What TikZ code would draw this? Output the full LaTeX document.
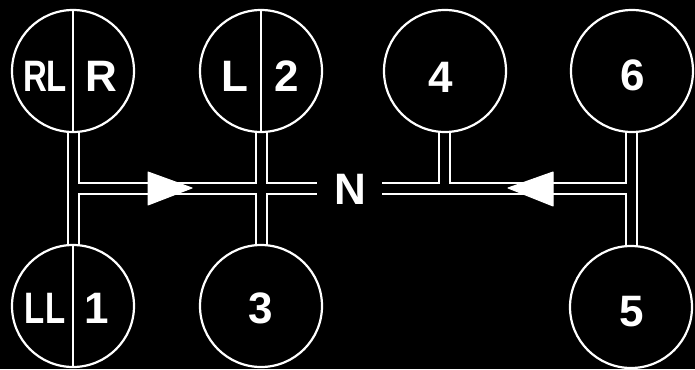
\documentclass[tikz,border=0pt]{standalone}
\usepackage{fontspec}
\setmainfont{Liberation Sans}
\begin{document}
\begin{tikzpicture}[x=1pt,y=-1pt,
  gear/.style={circle, draw=white, line width=2.2pt, fill=black, minimum size=122pt, inner sep=0pt},
  lbl/.style={text=white, font=\bfseries\fontsize{44}{44}\selectfont, inner sep=0pt},
  chanout/.style={draw=white, line width=13pt},
  chanin/.style={draw=black, line width=9pt},
  divider/.style={draw=white, line width=1.6pt},
  arrowhead/.style={fill=white, draw=white, line width=1pt, line join=round}]
\fill[black] (0,0) rectangle (695,369);
\useasboundingbox (0,0) rectangle (695,369);
% stems and channel
\coordinate (t1) at (73,71);  \coordinate (b1) at (73,306);
\coordinate (t2) at (261,71); \coordinate (b2) at (261,306);
\coordinate (t3) at (444,71);
\coordinate (t4) at (631,71); \coordinate (b4) at (631,306);
\coordinate (j1) at (73,188);  \coordinate (j3) at (444,188); \coordinate (j4) at (631,188);
\coordinate (nl) at (317,188); \coordinate (nr) at (382,188);
\path[chanout] (t1)--(b1) (t2)--(b2) (t3)--(j3) (t4)--(b4) (j1)--(nl) (nr)--(j4);
\path[chanin]  (t1)--(b1) (t2)--(b2) (t3)--(j3) (t4)--(b4) (j1)--(nl) (nr)--(j4);
% circles
\node[gear] (c1) at (73,71) {};
\node[gear] (c2) at (261,71) {};
\node[gear] (c4) at (445,71) {};
\node[gear] (c6) at (632,71) {};
\node[gear] (d1) at (73,306) {};
\node[gear] (c3) at (261,306) {};
\node[gear] (c5) at (631,307) {};
\draw[divider] (c1.north) -- (c1.south);
\draw[divider] (c2.north) -- (c2.south);
\draw[divider] (d1.north) -- (d1.south);
% labels
\node[lbl] (rl) at (45,76) {\scalebox{0.75}[1]{RL}};
\node[lbl] (r) at (101,76) {R};
\node[lbl] (l) at (235,76) {L};
\node[lbl] (two) at (287,76) {2};
\node[lbl] (four) at (441,77) {4};
\node[lbl] (six) at (633,75) {6};
\node[lbl] (ll) at (45,308) {\scalebox{0.75}[1]{LL}};
\node[lbl] (one) at (97,308) {1};
\node[lbl] (three) at (261,308) {3};
\node[lbl] (five) at (632,312) {5};
\node[lbl] (N) at (350,189) {N};
% arrowheads
\path[arrowhead] (148,172) -- (192,188) -- (148,205) -- cycle;
\path[arrowhead] (553,172) -- (508,188) -- (553,206) -- cycle;
\end{tikzpicture}
\end{document}
